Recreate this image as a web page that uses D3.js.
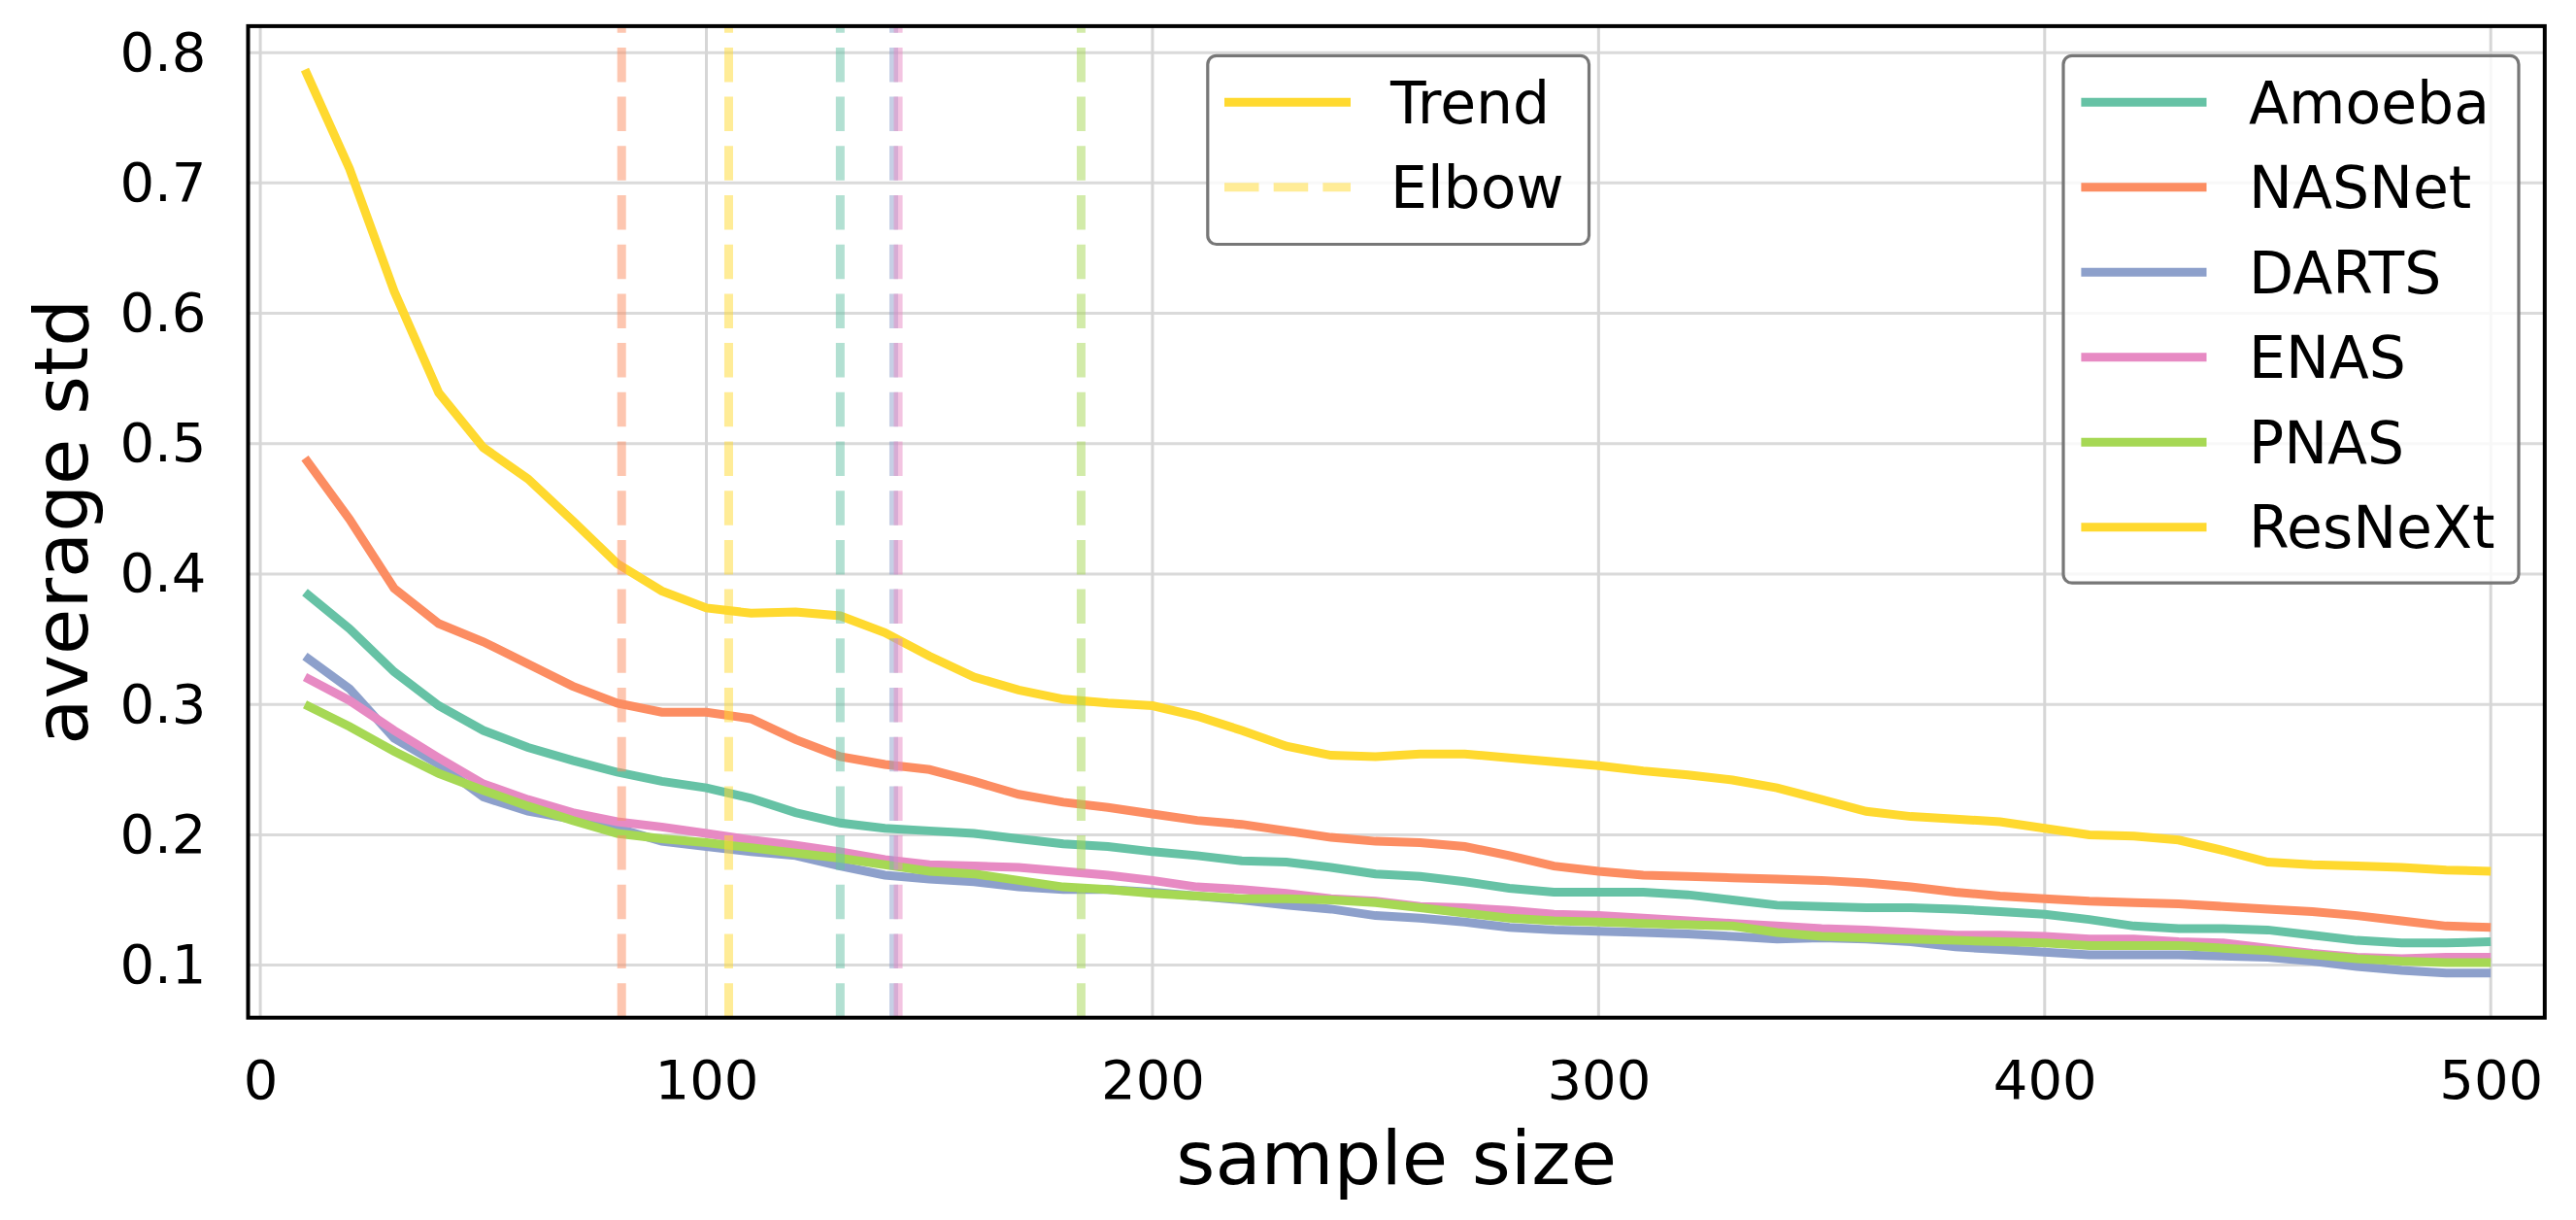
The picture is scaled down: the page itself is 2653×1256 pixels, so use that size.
<!DOCTYPE html>
<html>
<head>
<meta charset="utf-8">
<script src="https://cdn.jsdelivr.net/npm/d3@7"></script>
<style>
  html, body { margin: 0; padding: 0; background: #ffffff; }
  svg { display: block; }
  text { font-family: "DejaVu Sans", sans-serif; fill: #000; }
</style>
</head>
<body>
<div id="chart"></div>
<script>
// ---------------- data ----------------
const sampleSizes = [10,20,30,40,50,60,70,80,90,100,110,120,130,140,150,160,170,180,190,200,
  210,220,230,240,250,260,270,280,290,300,310,320,330,340,350,360,370,380,390,400,
  410,420,430,440,450,460,470,480,490,500];

const seriesNames = ["Amoeba", "NASNet", "DARTS", "ENAS", "PNAS", "ResNeXt"];

const amoeba = [0.386,0.358,0.325,0.299,0.280,0.267,0.257,0.248,0.241,0.236,0.228,0.217,0.209,0.205,0.203,0.201,0.197,0.193,0.191,0.187,
  0.184,0.180,0.179,0.175,0.170,0.168,0.164,0.159,0.156,0.156,0.156,0.154,0.150,0.146,0.145,0.144,0.144,0.143,0.141,0.139,
  0.135,0.130,0.128,0.128,0.127,0.123,0.119,0.117,0.117,0.118];
const nasnet = [0.489,0.442,0.389,0.362,0.348,0.331,0.314,0.301,0.294,0.294,0.289,0.273,0.260,0.254,0.250,0.241,0.231,0.225,0.221,0.216,
  0.211,0.208,0.203,0.198,0.195,0.194,0.191,0.184,0.176,0.172,0.169,0.168,0.167,0.166,0.165,0.163,0.160,0.156,0.153,0.151,
  0.149,0.148,0.147,0.145,0.143,0.141,0.138,0.134,0.130,0.129];
const darts = [0.337,0.312,0.274,0.254,0.229,0.218,0.212,0.205,0.195,0.191,0.187,0.184,0.176,0.169,0.166,0.164,0.160,0.158,0.158,0.156,
  0.153,0.150,0.146,0.143,0.138,0.136,0.133,0.129,0.127,0.126,0.125,0.124,0.122,0.120,0.121,0.120,0.118,0.114,0.112,0.110,
  0.108,0.108,0.108,0.107,0.106,0.103,0.099,0.096,0.094,0.094];
const enas = [0.321,0.303,0.280,0.259,0.239,0.227,0.217,0.210,0.206,0.201,0.196,0.192,0.187,0.181,0.177,0.176,0.175,0.172,0.169,0.165,
  0.160,0.158,0.155,0.151,0.149,0.145,0.144,0.142,0.139,0.138,0.136,0.134,0.132,0.130,0.128,0.127,0.125,0.123,0.123,0.122,
  0.120,0.120,0.118,0.117,0.113,0.109,0.106,0.105,0.106,0.106];
const pnas = [0.300,0.283,0.264,0.247,0.234,0.222,0.211,0.201,0.197,0.194,0.190,0.186,0.182,0.177,0.172,0.170,0.165,0.160,0.158,0.155,
  0.153,0.151,0.151,0.150,0.148,0.144,0.140,0.136,0.134,0.133,0.132,0.131,0.130,0.125,0.122,0.121,0.120,0.119,0.118,0.117,
  0.115,0.115,0.115,0.113,0.111,0.108,0.105,0.103,0.102,0.102];
const resnext = [0.787,0.711,0.617,0.539,0.497,0.473,0.441,0.408,0.387,0.374,0.370,0.371,0.368,0.355,0.337,0.321,0.311,0.304,0.301,0.299,
  0.291,0.280,0.268,0.261,0.260,0.262,0.262,0.259,0.256,0.253,0.249,0.246,0.242,0.236,0.227,0.218,0.214,0.212,0.210,0.205,
  0.200,0.199,0.196,0.188,0.179,0.177,0.176,0.175,0.173,0.172];

const seriesValues = [amoeba, nasnet, darts, enas, pnas, resnext];
const elbowPoints = [130, 81, 142, 143, 184, 105];
const seriesColors = ["#66c2a5", "#fc8d62", "#8da0cb", "#e78ac3", "#a6d854", "#ffd92f"];

const xTicks = [0, 100, 200, 300, 400, 500];
const yTicks = [0.1, 0.2, 0.3, 0.4, 0.5, 0.6, 0.7, 0.8];
const styleLegendLabels = ["Trend", "Elbow"];

// ---------------- layout ----------------
const W = 2653, H = 1256;
const plot = { left: 255.5, right: 2620.8, top: 26.9, bottom: 1047.7 };
const tickFont = 56, legendFont = 60, labelFont = 77, lineW = 9;

const svg = d3.select("#chart").append("svg")
  .attr("width", W).attr("height", H)
  .attr("viewBox", `0 0 ${W} ${H}`);
svg.append("rect").attr("width", W).attr("height", H).attr("fill", "#fff");

const x = d3.scaleLinear().domain([-2.74, 512.1]).range([plot.left, plot.right]);
const y = d3.scaleLinear().domain([0.0597, 0.8203]).range([plot.bottom, plot.top]);

// grid
const grid = svg.append("g");
grid.selectAll("line.hg").data(yTicks).enter().append("line")
  .attr("x1", plot.left).attr("x2", plot.right)
  .attr("y1", d => y(d)).attr("y2", d => y(d))
  .attr("stroke", "#dadada").attr("stroke-width", 3);
grid.selectAll("line.vg").data(xTicks).enter().append("line")
  .attr("y1", plot.top).attr("y2", plot.bottom)
  .attr("x1", d => x(d)).attr("x2", d => x(d))
  .attr("stroke", "#d6d6d6").attr("stroke-width", 3);

// clip
svg.append("clipPath").attr("id", "clip").append("rect")
  .attr("x", plot.left).attr("y", plot.top)
  .attr("width", plot.right - plot.left).attr("height", plot.bottom - plot.top);

const lineGen = d3.line().x((d, i) => x(sampleSizes[i])).y(d => y(d));
const marks = svg.append("g").attr("clip-path", "url(#clip)");

seriesValues.forEach((vals, i) => {
  marks.append("path")
    .datum(vals)
    .attr("d", lineGen)
    .attr("fill", "none")
    .attr("stroke", seriesColors[i])
    .attr("stroke-width", lineW)
    .attr("stroke-linejoin", "miter")
    .attr("stroke-linecap", "butt");
});

elbowPoints.forEach((e, i) => {
  marks.append("line")
    .attr("x1", x(e)).attr("x2", x(e))
    .attr("y1", plot.bottom).attr("y2", plot.top)
    .attr("stroke", seriesColors[i])
    .attr("stroke-opacity", 0.5)
    .attr("stroke-width", lineW)
    .attr("stroke-dasharray", "35.5,15.2");
});

// axes
const xAxis = d3.axisBottom(x).tickValues(xTicks).tickSize(0).tickPadding(43.5)
  .tickFormat(d3.format("d"));
const gx = svg.append("g").attr("transform", `translate(0,${plot.bottom})`).call(xAxis);
gx.select(".domain").remove();
gx.selectAll("text").attr("font-size", tickFont).attr("font-family", "DejaVu Sans").attr("fill", "#000");

const yAxis = d3.axisLeft(y).tickValues(yTicks).tickSize(0).tickPadding(43)
  .tickFormat(d3.format(".1f"));
const gy = svg.append("g").attr("transform", `translate(${plot.left},0)`).call(yAxis);
gy.select(".domain").remove();
gy.selectAll("text").attr("font-size", tickFont).attr("font-family", "DejaVu Sans").attr("fill", "#000");

// spines
svg.append("rect")
  .attr("x", plot.left).attr("y", plot.top)
  .attr("width", plot.right - plot.left).attr("height", plot.bottom - plot.top)
  .attr("fill", "none").attr("stroke", "#000").attr("stroke-width", 4);

// axis labels
svg.append("text")
  .attr("x", (plot.left + plot.right) / 2).attr("y", 1219)
  .attr("text-anchor", "middle").attr("font-size", labelFont)
  .text("sample size");
svg.append("text")
  .attr("transform", `translate(90,${(plot.top + plot.bottom) / 2}) rotate(-90)`)
  .attr("text-anchor", "middle").attr("font-size", labelFont)
  .text("average std");

// legends
function legendBox(bx, by, bw, bh) {
  const g = svg.append("g");
  g.append("rect").attr("x", bx).attr("y", by).attr("width", bw).attr("height", bh)
    .attr("rx", 9).attr("ry", 9)
    .attr("fill", "#fff").attr("fill-opacity", 0.8)
    .attr("stroke", "#777").attr("stroke-width", 3.2);
  return g;
}
const rowGap = 87.5;

// style legend
const leg1 = legendBox(1243.8, 57.3, 392.7, 194.2);
styleLegendLabels.forEach((lab, i) => {
  const cy = 105.2 + i * rowGap;
  leg1.append("line")
    .attr("x1", 1261).attr("x2", 1391).attr("y1", cy).attr("y2", cy)
    .attr("stroke", seriesColors[5]).attr("stroke-width", lineW)
    .attr("stroke-opacity", i === 0 ? 1 : 0.5)
    .attr("stroke-dasharray", i === 0 ? null : "35.5,15.2");
  leg1.append("text").attr("x", 1432).attr("y", cy).attr("dy", "0.36em")
    .attr("font-size", legendFont).text(lab);
});

// series legend
const leg2 = legendBox(2125, 57.3, 469, 542.9);
seriesNames.forEach((name, i) => {
  const cy = 105.2 + i * rowGap;
  leg2.append("line")
    .attr("x1", 2143.4).attr("x2", 2272.5).attr("y1", cy).attr("y2", cy)
    .attr("stroke", seriesColors[i]).attr("stroke-width", lineW);
  leg2.append("text").attr("x", 2316).attr("y", cy).attr("dy", "0.36em")
    .attr("font-size", legendFont).text(name);
});
</script>
</body>
</html>
